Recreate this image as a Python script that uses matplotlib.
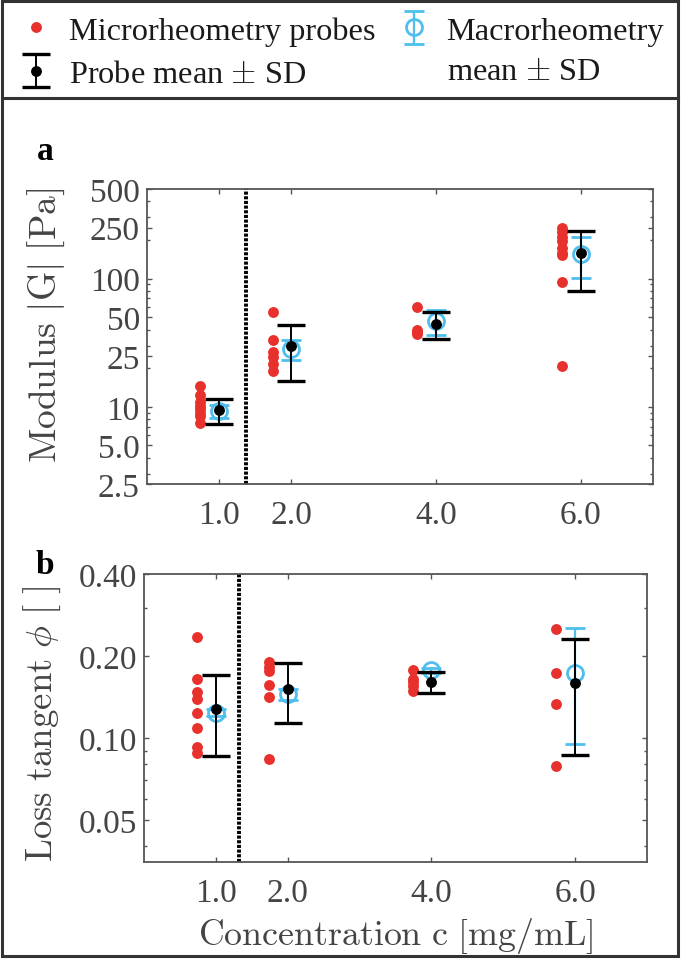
import matplotlib
matplotlib.use("Agg")
import matplotlib.pyplot as plt
import numpy as np
from matplotlib.ticker import FixedLocator, FixedFormatter, LogLocator, NullFormatter, NullLocator
from matplotlib.patches import Rectangle
from matplotlib.lines import Line2D

# ---------------- data ----------------
conc = [1.0, 2.0, 4.0, 6.0]
conc_ticklabels = ["1.0", "2.0", "4.0", "6.0"]

G_probe_c1 = [14.5, 12.3, 11.0, 10.2, 9.6, 9.0, 8.5, 7.5]
G_probe_c2 = [55, 33, 27, 24.5, 21.5, 19]
G_probe_c4 = [60, 40, 38, 37]
G_probe_c6 = [250, 232, 212, 195, 172, 158, 152, 94, 21]
G_probe_mean = [9.5, 29.7, 44.5, 157]
G_probe_sd = [2.1, 13.8, 10.7, 77]
G_macro_mean = [9.3, 28.3, 46.5, 156]
G_macro_sd = [1.1, 5.2, 10.2, 55]

phi_probe_c1 = [0.235, 0.165, 0.147, 0.139, 0.124, 0.109, 0.093, 0.088]
phi_probe_c2 = [0.190, 0.183, 0.176, 0.157, 0.142, 0.084]
phi_probe_c4 = [0.178, 0.165, 0.160, 0.155, 0.149]
phi_probe_c6 = [0.251, 0.174, 0.133, 0.079]
phi_probe_mean = [0.128, 0.151, 0.1605, 0.159]
phi_probe_sd = [0.042, 0.037, 0.014, 0.072]
phi_macro_mean = [0.124, 0.145, 0.177, 0.174]
phi_macro_sd = [0.004, 0.007, 0.003, 0.079]

G_ticks = [2.5, 5, 10, 25, 50, 100, 250, 500]
G_ticklabels = ["2.5", "5.0", "10", "25", "50", "100", "250", "500"]
phi_ticks = [0.05, 0.10, 0.20, 0.40]
phi_ticklabels = ["0.05", "0.10", "0.20", "0.40"]

probe_offset = 0.26
divider_a = 1.37
divider_b = 1.32

# ---------------- style ----------------
plt.rcParams['font.family'] = ['Liberation Serif', 'DejaVu Serif']
plt.rcParams['mathtext.fontset'] = 'cm'

RED = '#E8302C'
CYAN = '#4DBEEE'
GRAY = '#444444'
SPINE = '#555555'
TICK_FS = 24
LEG_FS = 23.3

W, H = 685, 962
fig = plt.figure(figsize=(W / 100, H / 100), dpi=100)

def px(x0, y0, x1, y1):
    return [x0 / W, 1 - y1 / H, (x1 - x0) / W, (y1 - y0) / H]

ax_a = fig.add_axes(px(146.7, 190, 653, 485))
ax_b = fig.add_axes(px(144, 575, 647, 863.3))

def draw_panel(ax, groups, pmean, psd, mmean, msd, divider):
    ax.axvline(divider, color='black', lw=2.8, ls=(0, (0.8, 0.4)), zorder=1)
    for c, vals in zip(conc, groups):
        ax.plot([c - probe_offset] * len(vals), vals, 'o', color=RED, ms=6.8,
                mec=RED, ls='none', zorder=3)
    ax.errorbar(conc, mmean, yerr=msd, fmt='o', color=CYAN, mfc='none', mec=CYAN,
                ms=11.5, mew=2.0, elinewidth=1.6, capsize=7.5, capthick=2.2, zorder=4)
    ax.errorbar(conc, pmean, yerr=psd, fmt='o', color='black', ms=6.8,
                elinewidth=1.4, capsize=10, capthick=2.4, zorder=5)

draw_panel(ax_a, [G_probe_c1, G_probe_c2, G_probe_c4, G_probe_c6],
           G_probe_mean, G_probe_sd, G_macro_mean, G_macro_sd, divider_a)
draw_panel(ax_b, [phi_probe_c1, phi_probe_c2, phi_probe_c4, phi_probe_c6],
           phi_probe_mean, phi_probe_sd, phi_macro_mean, phi_macro_sd, divider_b)

for ax, ylim, ticks, labels in [(ax_a, (2.5, 500), G_ticks, G_ticklabels),
                                (ax_b, (0.035, 0.40), phi_ticks, phi_ticklabels)]:
    ax.set_yscale('log')
    ax.set_ylim(*ylim)
    ax.set_xlim(0, 7)
    ax.yaxis.set_major_locator(FixedLocator(ticks))
    ax.yaxis.set_major_formatter(FixedFormatter(labels))
    ax.yaxis.set_minor_locator(LogLocator(base=10, subs=np.arange(1, 10)))
    ax.yaxis.set_minor_formatter(NullFormatter())
    ax.xaxis.set_major_locator(FixedLocator(conc))
    ax.xaxis.set_major_formatter(FixedFormatter(conc_ticklabels))
    ax.xaxis.set_minor_locator(NullLocator())
    ax.tick_params(which='both', direction='in', top=True, right=True,
                   color=SPINE, labelcolor=GRAY, labelsize=TICK_FS, width=1.0)
    ax.tick_params(which='major', length=3.8)
    ax.tick_params(which='minor', length=2.3)
    ax.tick_params(axis='x', pad=11)
    ax.tick_params(axis='y', pad=5)
    for s in ax.spines.values():
        s.set_color(SPINE)
        s.set_linewidth(1.3)

ax_a.set_ylabel(r'$\mathrm{Modulus\ |G|\ [Pa]}$', fontsize=27, color=GRAY)
ax_a.yaxis.set_label_coords(-0.158, 0.542)
ax_b.set_ylabel(r'$\mathrm{Loss\ tangent}\ \phi\ [\ ]$', fontsize=26.5, color=GRAY)
ax_b.yaxis.set_label_coords(-0.161, 0.483)
ax_b.set_xlabel(r'$\mathrm{Concentration\ c\ [mg/mL]}$', fontsize=25.8, color=GRAY, labelpad=5)

fig.text(45 / W, 1 - 152 / H, 'a', fontsize=24, fontweight='bold', ha='center', va='center')
fig.text(45 / W, 1 - 565 / H, 'b', fontsize=24, fontweight='bold', ha='center', va='center')

# ---------------- legend ----------------
h_red = Line2D([], [], marker='o', color=RED, ms=6.8, ls='none')
h_black = ax_a.containers[1]
h_cyan = ax_a.containers[0]

leg1 = fig.legend([h_red, h_black], ['Microrheometry probes', r'Probe mean $\pm$ SD'],
                  loc='upper left', bbox_to_anchor=(20 / W, 1 - 17 / H), frameon=False,
                  fontsize=LEG_FS, handlelength=1.0, handletextpad=0.5, borderpad=0,
                  labelspacing=0.42, borderaxespad=0)
leg2 = fig.legend([h_cyan], ['Macrorheometry'],
                  loc='upper left', bbox_to_anchor=(398 / W, 1 - 17 / H), frameon=False,
                  fontsize=LEG_FS, handlelength=1.0, handletextpad=0.5, borderpad=0,
                  borderaxespad=0)
for leg in (leg1, leg2):
    for t in leg.get_texts():
        t.set_color('#1a1a1a')
fig.text(447 / W, 1 - 72 / H, r'mean $\pm$ SD', fontsize=LEG_FS, color='#1a1a1a',
         ha='left', va='center')

# ---------------- frame ----------------
fig.add_artist(Rectangle((1.5 / W, 1 - 957 / H), 676.5 / W, 955.5 / H, transform=fig.transFigure,
                         fill=False, edgecolor='#333333', lw=2.2))
fig.add_artist(Line2D([1.5 / W, 678 / W], [1 - 99 / H, 1 - 99 / H], transform=fig.transFigure,
                      color='#333333', lw=2.2))

fig.savefig('out.png', dpi=100)
